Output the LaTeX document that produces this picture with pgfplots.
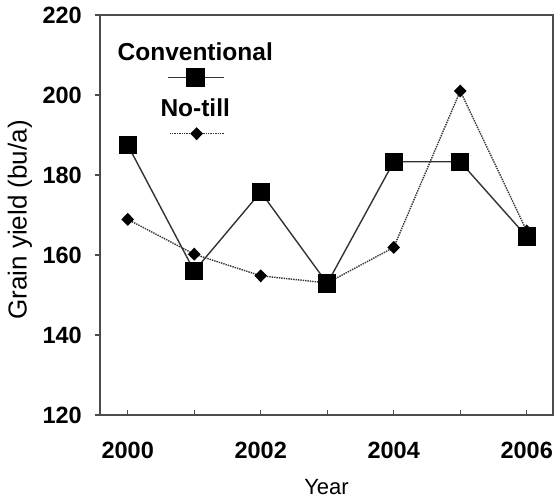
\documentclass[border=0pt]{standalone}
\usepackage{pgfplots}
\pgfplotsset{compat=1.18}
\usepackage{fontspec}
\setmainfont{Liberation Sans}
\pgfplotsset{
 convlegend/.style={legend image code/.code={\draw[overlay,mark repeat=2,mark phase=2,##1] plot coordinates {(50pt,-25pt)(78pt,-25pt)(106pt,-25pt)};}},
 ntlegend/.style={legend image code/.code={\draw[overlay,mark repeat=2,mark phase=2,##1] plot coordinates {(52pt,-25pt)(79pt,-25pt)(106pt,-25pt)};}},
}
\begin{document}
\begin{tikzpicture}
\path[use as bounding box] (-100pt,-83pt) rectangle (456pt,415pt);
\begin{axis}[
 at={(0pt,0pt)}, anchor=south west,
 scale only axis, width=453pt, height=400pt,
 xmin=1999.583, xmax=2006.395, ymin=120, ymax=220,
 xtick={2000,2002,2004,2006},
 minor xtick={2001,2003,2005},
 ytick={120,140,...,220},
 tick pos=left, xtick align=inside, ytick align=outside,
 major tick length=5pt, minor tick length=5pt,
 axis line style={draw=black!70, line width=1.6pt},
 every tick/.style={draw=black!70, line width=1.2pt},
 /pgf/number format/1000 sep={},
 /pgf/number format/assume math mode=true,
 ticklabel style={font=\fontsize{23.5}{28}\selectfont\bfseries, inner sep=0pt},
 xticklabel style={anchor=north, yshift=-27pt},
 yticklabel style={anchor=east, xshift=-13pt},
 xlabel={Year}, ylabel={Grain yield (bu/a)},
 xlabel style={font=\fontsize{22}{26}\selectfont, at={(axis description cs:0.5,-0.18)}, anchor=center},
 ylabel style={font=\fontsize{26}{30}\selectfont, at={(axis description cs:-0.177,0.4875)}, anchor=center},
 legend cell align=center,
 legend style={draw=none, fill=none, at={(axis cs:1999.80,213.6)}, anchor=north west,
   font=\fontsize{24.5}{28}\selectfont\bfseries, row sep=37pt, column sep=0pt,
   nodes={inner sep=0pt}},
]
\addplot[color=black!80, line width=1.4pt, mark=square*, mark size=8.5pt,
  mark options={solid, fill=black, draw=black}, convlegend]
 coordinates {(2000,187.5)(2001,156)(2002,175.75)(2003,152.9)(2004,183.3)(2005,183.3)(2006,164.6)};
\addlegendentry{Conventional}
\addplot[color=black!80, line width=1.4pt, densely dotted, mark=diamond*, mark size=5.5pt,
  mark options={solid, fill=black, draw=black, xscale=1.3}, ntlegend]
 coordinates {(2000,168.9)(2001,160.2)(2002,154.8)(2003,153)(2004,161.9)(2005,201)(2006,166)};
\addlegendentry{No-till}
\end{axis}
\end{tikzpicture}
\end{document}
